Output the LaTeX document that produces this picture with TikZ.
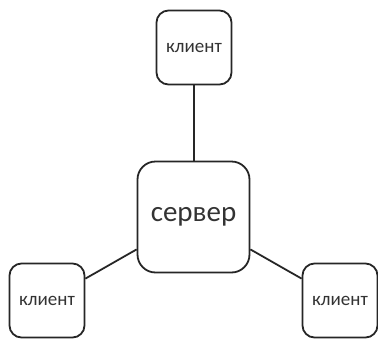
\documentclass[tikz,border=0pt]{standalone}
\usepackage{fontspec}
\setmainfont{Carlito}
\usetikzlibrary{backgrounds}
\begin{document}
\begin{tikzpicture}[x=1pt,y=-1pt,
  box/.style={draw=black!85, line width=1.8pt, rounded corners=12pt, fill=white, inner sep=0pt, text=black!80},
  client/.style={box, minimum width=75pt, minimum height=74pt, font=\fontsize{19}{19}\selectfont},
  server/.style={box, minimum width=112pt, minimum height=111pt, rounded corners=18pt, font=\fontsize{29}{29}\selectfont},
  link/.style={draw=black!85, line width=1.8pt}]
\useasboundingbox (0,0) rectangle (378,338);
\node[server] (srv) at (193.5,217) {сервер};
\node[client] (top) at (194,47.5) {клиент};
\node[client] (bl) at (47,300.5) {клиент};
\node[client] (br) at (340,300.5) {клиент};
\begin{scope}[on background layer]
\draw[link] (top.south) -- (top.south |- srv.north);
\draw[link] (bl) -- (srv);
\draw[link] (br) -- (srv);
\end{scope}
\end{tikzpicture}
\end{document}
